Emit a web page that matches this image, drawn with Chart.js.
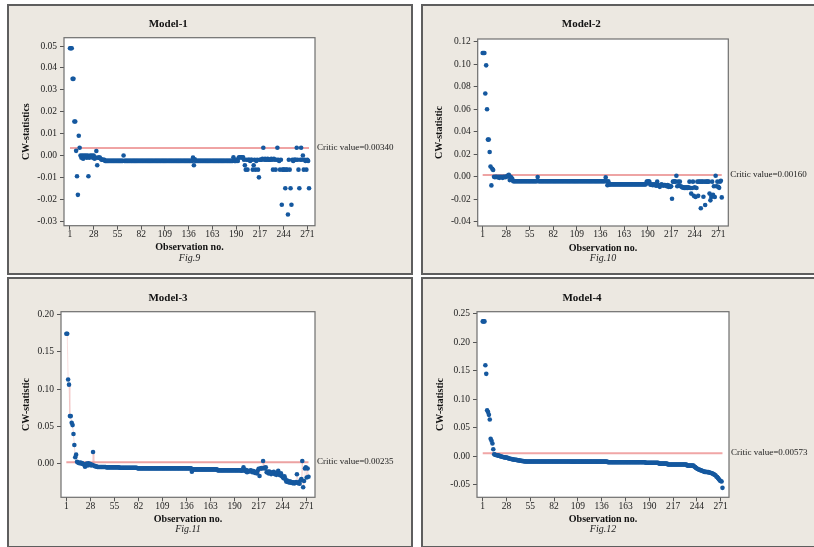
<!DOCTYPE html>
<html><head><meta charset="utf-8">
<script src="https://cdn.jsdelivr.net/npm/chart.js@4.4.1/dist/chart.umd.min.js"></script>
<style>
html,body{margin:0;padding:0;background:#fff;width:814px;height:547px;overflow:hidden;}
.panel{position:absolute;box-sizing:border-box;width:406px;height:271px;border:2px solid #5e5e5e;background:#ece8e1;}
.panel canvas{position:absolute;left:0;top:0;}
</style></head><body>
<div class="panel" style="left:7px;top:4px"><canvas id="c0" width="402" height="267"></canvas></div>
<div class="panel" style="left:421px;top:4px"><canvas id="c1" width="402" height="267"></canvas></div>
<div class="panel" style="left:7px;top:277px"><canvas id="c2" width="402" height="267"></canvas></div>
<div class="panel" style="left:421px;top:277px"><canvas id="c3" width="402" height="267"></canvas></div>
<script>
// ---------------- DATA ----------------
const TITLES = ["Model-1", "Model-2", "Model-3", "Model-4"];
const Y_TITLES = ["CW-statistics", "CW-statistic", "CW-statistic", "CW-statistic"];
const X_TITLE = "Observation no.";
const CAPTIONS = ["Fig.9", "Fig.10", "Fig.11", "Fig.12"];
const CRITIC = [0.0034, 0.0016, 0.00235, 0.00573];
const CRITIC_LABELS = ["Critic value=0.00340", "Critic value=0.00160", "Critic value=0.00235", "Critic value=0.00573"];
const X_TICKS = [1, 28, 55, 82, 109, 136, 163, 190, 217, 244, 271];
const Y_TICKS_1 = [-0.03, -0.02, -0.01, 0, 0.01, 0.02, 0.03, 0.04, 0.05];
const Y_LABELS_1 = ["-0.03", "-0.02", "-0.01", "0.00", "0.01", "0.02", "0.03", "0.04", "0.05"];
const Y_TICKS_2 = [-0.04, -0.02, 0, 0.02, 0.04, 0.06, 0.08, 0.10, 0.12];
const Y_LABELS_2 = ["-0.04", "-0.02", "0.00", "0.02", "0.04", "0.06", "0.08", "0.10", "0.12"];
const Y_TICKS_3 = [0, 0.05, 0.10, 0.15, 0.20];
const Y_LABELS_3 = ["0.00", "0.05", "0.10", "0.15", "0.20"];
const Y_TICKS_4 = [-0.05, 0, 0.05, 0.10, 0.15, 0.20, 0.25];
const Y_LABELS_4 = ["-0.05", "0.00", "0.05", "0.10", "0.15", "0.20", "0.25"];

// CW statistic per observation (obs 1..N)
const M1 = [
.049,.049,.049,.035,.035,.0155,.0155,.0021,-.0095,-.018,
.009,.0035,0,-.001,0,-.0015,0,-.0005,0,-.001,
0,-.0095,-.001,0,-.0005,0,-.001,0,-.0015,-.001,
.002,-.0045,-.001,-.001,-.001,-.0015,-.002,-.002,-.002,-.002,
-.0025,-.0025,-.0025,-.0025,-.0025,-.0025,-.0025,-.0025,-.0025,-.0025,
-.0025,-.0025,-.0025,-.0025,-.0025,-.0025,-.0025,-.0025,-.0025,-.0025,
-.0025,0,-.0025,-.0025,-.0025,-.0025,-.0025,-.0025,-.0025,-.0025,
-.0025,-.0025,-.0025,-.0025,-.0025,-.0025,-.0025,-.0025,-.0025,-.0025,
-.0025,-.0025,-.0025,-.0025,-.0025,-.0025,-.0025,-.0025,-.0025,-.0025,
-.0025,-.0025,-.0025,-.0025,-.0025,-.0025,-.0025,-.0025,-.0025,-.0025,
-.0025,-.0025,-.0025,-.0025,-.0025,-.0025,-.0025,-.0025,-.0025,-.0025,
-.0025,-.0025,-.0025,-.0025,-.0025,-.0025,-.0025,-.0025,-.0025,-.0025,
-.0025,-.0025,-.0025,-.0025,-.0025,-.0025,-.0025,-.0025,-.0025,-.0025,
-.0025,-.0025,-.0025,-.0025,-.0025,-.0025,-.0025,-.0025,-.0025,-.0025,
-.001,-.0045,-.0018,-.0025,-.0025,-.0025,-.0025,-.0025,-.0025,-.0025,
-.0025,-.0025,-.0025,-.0025,-.0025,-.0025,-.0025,-.0025,-.0025,-.0025,
-.0025,-.0025,-.0025,-.0025,-.0025,-.0025,-.0025,-.0025,-.0025,-.0025,
-.0025,-.0025,-.0025,-.0025,-.0025,-.0025,-.0025,-.0025,-.0025,-.0025,
-.0025,-.0025,-.0025,-.0025,-.0025,-.0025,-.0008,-.0025,-.0025,-.0025,
-.002,-.0025,-.001,-.0008,-.0008,-.0008,-.001,-.0008,-.002,-.0045,
-.0065,-.002,-.0065,-.002,-.002,-.0025,-.002,-.002,-.0065,-.0045,
-.002,-.0065,-.0025,-.002,-.0065,-.01,-.002,-.002,-.002,-.0015,
.0035,-.002,-.0015,-.002,-.002,-.0015,-.002,-.002,-.002,-.0015,
-.002,-.0065,-.0015,-.002,-.0065,-.002,.0035,-.002,-.0025,-.0065,
-.002,-.0225,-.0065,-.0065,-.0065,-.015,-.0065,-.0065,-.027,-.002,
-.0065,-.015,-.0225,-.002,-.0025,-.002,-.002,-.002,.0035,-.002,
-.0065,-.015,-.002,.0035,-.002,0,-.0065,-.002,-.0025,-.0065,
-.002,-.0025,-.015
];
const M2 = [
.11,.11,.11,.074,.099,.06,.033,.033,.022,.009,
-.0077,.007,.006,0,-.0005,0,0,-.0005,0,-.001,
0,-.0005,0,-.001,0,0,-.0005,0,.0005,.001,
.0018,-.003,0,-.001,-.002,-.004,-.004,-.004,-.004,-.004,
-.004,-.004,-.004,-.004,-.004,-.004,-.004,-.004,-.004,-.004,
-.004,-.004,-.004,-.004,-.004,-.004,-.004,-.004,-.004,-.004,
-.004,-.004,-.004,-.0003,-.004,-.004,-.004,-.004,-.004,-.004,
-.004,-.004,-.004,-.004,-.004,-.004,-.004,-.004,-.004,-.004,
-.004,-.004,-.004,-.004,-.004,-.004,-.004,-.004,-.004,-.004,
-.004,-.004,-.004,-.004,-.004,-.004,-.004,-.004,-.004,-.004,
-.004,-.004,-.004,-.004,-.004,-.004,-.004,-.004,-.004,-.004,
-.004,-.004,-.004,-.004,-.004,-.004,-.004,-.004,-.004,-.004,
-.004,-.004,-.004,-.004,-.004,-.004,-.004,-.004,-.004,-.004,
-.004,-.004,-.004,-.004,-.004,-.004,-.004,-.004,-.004,-.004,
-.004,-.0006,-.004,-.0075,-.004,-.007,-.0068,-.0068,-.0068,-.0068,
-.0068,-.0068,-.0068,-.0068,-.0068,-.0068,-.0068,-.0068,-.0068,-.0068,
-.0068,-.0068,-.0068,-.0068,-.0068,-.0068,-.0068,-.0068,-.0068,-.0068,
-.0068,-.0068,-.0068,-.0068,-.0068,-.0068,-.0068,-.0068,-.0068,-.0068,
-.0068,-.0068,-.0068,-.0068,-.0068,-.0068,-.0068,-.0068,-.0044,-.0044,
-.004,-.0044,-.007,-.007,-.0068,-.0075,-.007,-.0068,-.0075,-.008,
-.0044,-.0073,-.008,-.009,-.0073,-.0068,-.0073,-.008,-.0073,-.0073,
-.0078,-.0085,-.0073,-.009,-.008,-.009,-.0085,-.0196,-.0044,-.0044,
-.004,-.0044,.0009,-.0085,-.0044,-.0078,-.0044,-.0085,-.009,-.0095,
-.0095,-.01,-.0095,-.01,-.0095,-.01,-.0095,-.0044,-.01,-.015,
-.01,-.0044,-.017,-.0095,-.018,-.01,-.0044,-.017,-.0044,-.0044,
-.028,-.0044,-.0044,-.0178,-.0044,-.0252,-.0044,-.0044,-.0044,-.0044,
-.015,-.021,-.018,-.0044,-.016,-.0085,-.018,.0009,-.0085,-.0044,
-.009,-.0099,-.0044,-.0036,-.0184
];
const M3 = [
.174,.174,.113,.106,.064,.064,.055,.052,.04,.0254,
.009,.0125,.003,.002,.0015,.001,.002,.0005,.001,0,
-.001,-.0036,-.001,.0005,-.002,.001,-.001,0,-.002,-.001,
.016,-.002,-.003,-.003,-.0035,-.004,-.004,-.004,-.004,-.004,
-.004,-.004,-.004,-.004,-.004,-.0045,-.0045,-.0045,-.0045,-.0045,
-.0045,-.0045,-.0045,-.0045,-.0045,-.0045,-.0045,-.0045,-.0045,-.0045,
-.005,-.005,-.005,-.005,-.005,-.005,-.005,-.005,-.005,-.005,
-.005,-.005,-.005,-.005,-.005,-.005,-.005,-.005,-.005,-.005,
-.0058,-.0058,-.0058,-.0058,-.0058,-.0058,-.0058,-.0058,-.0058,-.0058,
-.0058,-.0058,-.0058,-.0058,-.0058,-.0058,-.0058,-.0058,-.0058,-.0058,
-.0058,-.0058,-.0058,-.0058,-.0058,-.0058,-.0058,-.0058,-.0058,-.0058,
-.0058,-.0058,-.0058,-.0058,-.0058,-.0058,-.0058,-.0058,-.0058,-.0058,
-.0058,-.0058,-.0058,-.0058,-.0058,-.0058,-.0058,-.0058,-.0058,-.0058,
-.0058,-.0058,-.0058,-.0058,-.0058,-.0058,-.0058,-.0058,-.0058,-.0058,
-.0058,-.0103,-.0072,-.0072,-.0072,-.0072,-.0072,-.0072,-.0072,-.0072,
-.0072,-.0072,-.0072,-.0072,-.0072,-.0072,-.0072,-.0072,-.0072,-.0072,
-.0072,-.0072,-.0072,-.0072,-.0072,-.0072,-.0072,-.0072,-.0072,-.0072,
-.0085,-.0085,-.0085,-.0085,-.0085,-.0085,-.0085,-.0085,-.0085,-.0085,
-.0085,-.0085,-.0085,-.0085,-.0085,-.0085,-.0085,-.0085,-.0085,-.0085,
-.0085,-.0085,-.0085,-.0085,-.0085,-.0085,-.0085,-.009,-.0085,-.0044,
-.0085,-.0095,-.008,-.011,-.009,-.0095,-.01,-.0085,-.009,-.011,
-.0095,-.01,-.012,-.011,-.0125,-.009,-.0065,-.016,-.006,-.0055,
-.006,.004,-.005,-.006,-.0045,-.011,-.01,-.0125,-.01,-.012,
-.0135,-.011,-.012,-.0105,-.0135,-.012,-.0145,-.0125,-.009,-.0135,
-.015,-.0125,-.016,-.0175,-.019,-.0165,-.02,-.0235,-.022,-.024,
-.0245,-.023,-.025,-.024,-.0255,-.0245,-.026,-.025,-.024,-.0138,
-.0255,-.0245,-.0263,-.022,-.02,.004,-.031,-.0227,-.006,-.0045,
-.018,-.006,-.017
];
const M4 = [
.237,.237,.237,.16,.145,.081,.078,.073,.065,.031,
.0275,.0228,.0128,.004,.003,.0025,.0022,.002,.0015,.001,
.0005,0,-.0005,-.001,-.0013,-.0016,-.0018,-.002,-.0025,-.003,
-.0035,-.004,-.0043,-.0046,-.005,-.0053,-.0056,-.0058,-.006,-.0063,
-.0066,-.0069,-.0072,-.0075,-.0077,-.008,-.0082,-.0084,-.0086,-.0087,
-.0088,-.0088,-.0088,-.0088,-.0088,-.0088,-.0088,-.0088,-.0088,-.0088,
-.0088,-.0088,-.0088,-.0088,-.0088,-.0088,-.0088,-.0088,-.0088,-.0088,
-.0088,-.0088,-.0088,-.0088,-.0088,-.0088,-.0088,-.0088,-.0088,-.0088,
-.0088,-.0088,-.0088,-.0088,-.0088,-.0088,-.0088,-.0088,-.0088,-.0088,
-.0088,-.0088,-.0088,-.0088,-.0088,-.0088,-.0088,-.0088,-.0088,-.0088,
-.009,-.009,-.009,-.009,-.009,-.009,-.009,-.009,-.009,-.009,
-.009,-.009,-.009,-.009,-.009,-.009,-.009,-.009,-.009,-.009,
-.009,-.009,-.009,-.009,-.009,-.009,-.009,-.009,-.009,-.009,
-.009,-.009,-.009,-.009,-.009,-.009,-.009,-.009,-.009,-.009,
-.009,-.009,-.01,-.01,-.01,-.01,-.01,-.01,-.01,-.01,
-.01,-.01,-.01,-.01,-.01,-.01,-.01,-.01,-.01,-.01,
-.01,-.01,-.01,-.01,-.01,-.01,-.01,-.01,-.01,-.01,
-.01,-.01,-.01,-.01,-.01,-.01,-.01,-.01,-.01,-.01,
-.01,-.01,-.01,-.01,-.01,-.011,-.011,-.011,-.011,-.011,
-.011,-.011,-.011,-.011,-.011,-.011,-.011,-.011,-.011,-.011,
-.0125,-.0125,-.0125,-.0125,-.0125,-.0125,-.0125,-.0125,-.0125,-.0125,
-.014,-.014,-.014,-.014,-.014,-.014,-.014,-.014,-.014,-.014,
-.014,-.014,-.014,-.014,-.014,-.014,-.014,-.014,-.014,-.014,
-.014,-.014,-.016,-.016,-.016,-.016,-.016,-.016,-.016,-.016,
-.0175,-.0187,-.02,-.021,-.022,-.0228,-.0234,-.024,-.0245,-.025,
-.026,-.0265,-.027,-.027,-.0272,-.0274,-.0275,-.028,-.0285,-.029,
-.0295,-.0304,-.031,-.032,-.033,-.035,-.036,-.038,-.04,-.042,
-.043,-.044,-.055
];

// ---------------- LAYOUT / STYLE ----------------
const SERIES = [M1, M2, M3, M4];
const YT = [Y_TICKS_1, Y_TICKS_2, Y_TICKS_3, Y_TICKS_4];
const YL = [Y_LABELS_1, Y_LABELS_2, Y_LABELS_3, Y_LABELS_4];
const GEOM = [
  {L:7,   T:4,   plot:[64,37.7,315,225.7],  titleY:24.3,  yTitleX:26.5,  x:[-5.8,279.8], y:[-0.0321,0.0538]},
  {L:421, T:4,   plot:[477.7,39,728.3,226], titleY:24.3,  yTitleX:439.3, x:[-4.7,282.5], y:[-0.0438,0.1224]},
  {L:7,   T:277, plot:[61,311.7,315,497.3], titleY:297.7, yTitleX:26,    x:[-5,280.3],   y:[-0.0445,0.2035]},
  {L:421, T:277, plot:[477,311.7,729,497.3],titleY:297.7, yTitleX:440,   x:[-5.5,280.4], y:[-0.0716,0.254]}
];
const LINE_STYLE = [
  {color:'#e04848', width:1},
  {color:'#eea4a4', width:2},
  {color:'#eca2a2', width:2},
  {color:'#f0a6a6', width:2}
];
const FAM = "'Liberation Serif','Times New Roman',serif";
const DOT = '#15589f';

function build(i){
  const g = GEOM[i];
  const ox = g.L + 2, oy = g.T + 2, W = 402, H = 267;
  const left = g.plot[0]-ox, top = g.plot[1]-oy, right = g.plot[2]-ox, bottom = g.plot[3]-oy;
  const titleCY = g.titleY - oy;
  const yTitleCX = g.yTitleX - ox;
  const xAxisH = 27, subLH = 10, subPadTop = 0.5, titleLH = 11, padTop = 4;
  const padLeft = yTitleCX - 5;
  const yAxisW = left - padLeft;
  const tPadTop = titleCY - padTop - titleLH/2;
  const tPadBottom = top - (titleCY + titleLH/2);
  const padBottom = H - bottom - xAxisH - (subLH + subPadTop);
  const padRight = W - right;
  const data = SERIES[i];
  const n = data.length;

  const plugin = {
    id:'frame'+i,
    beforeDraw(chart){
      const {ctx, chartArea:a} = chart;
      ctx.save(); ctx.fillStyle = '#fff';
      ctx.fillRect(a.left, a.top, a.right-a.left, a.bottom-a.top); ctx.restore();
    },
    afterDraw(chart){
      const {ctx, chartArea:a} = chart;
      ctx.save();
      ctx.strokeStyle = '#6e6e6e'; ctx.lineWidth = 1.2;
      ctx.strokeRect(a.left, a.top, a.right-a.left, a.bottom-a.top);
      const yp = chart.scales.y.getPixelForValue(CRITIC[i]) - 0.5;
      ctx.fillStyle = '#222'; ctx.font = "9px " + FAM;
      ctx.textAlign = 'left'; ctx.textBaseline = 'middle';
      ctx.fillText(CRITIC_LABELS[i], a.right + 2, yp);
      ctx.restore();
    }
  };

  const datasets = [
    {type:'scatter', data:data.map((v,k)=>({x:k+1, y:v})), backgroundColor:DOT,
     pointBackgroundColor:DOT, pointBorderWidth:0, pointBorderColor:DOT,
     pointRadius:2.3, pointHoverRadius:2.3, order:0,
     showLine: i===2, borderColor:'rgba(236,160,160,0.35)', borderWidth: i===2 ? 1 : 0, fill:false},
    {type:'line', data:[{x:1, y:CRITIC[i]}, {x:n, y:CRITIC[i]}], borderColor:LINE_STYLE[i].color,
     borderWidth:LINE_STYLE[i].width, pointRadius:0, fill:false, order:1}
  ];

  new Chart(document.getElementById('c'+i), {
    type:'scatter',
    data:{datasets},
    plugins:[plugin],
    options:{
      responsive:false, animation:false, devicePixelRatio:1,
      layout:{padding:{left:padLeft, right:padRight, top:padTop, bottom:padBottom}},
      plugins:{
        legend:{display:false}, tooltip:{enabled:false},
        title:{display:true, text:TITLES[i], color:'#111',
               font:{family:FAM, size:11, weight:'bold', lineHeight:1},
               padding:{top:tPadTop, bottom:tPadBottom}},
        subtitle:{display:true, text:CAPTIONS[i], position:'bottom', fullSize:false, color:'#222',
               font:{family:FAM, size:10, style:'italic', lineHeight:1},
               padding:{top:subPadTop, bottom:0}}
      },
      scales:{
        x:{type:'linear', position:'bottom', min:g.x[0], max:g.x[1],
           afterBuildTicks:s=>{ s.ticks = X_TICKS.map(v=>({value:v})); },
           afterFit:s=>{ s.height = xAxisH; },
           ticks:{autoSkip:false, maxRotation:0, padding:0, color:'#222',
                  font:{family:FAM, size:9.5, lineHeight:1},
                  callback:(v)=>String(v)},
           grid:{display:true, drawOnChartArea:false, drawTicks:true, tickLength:4, color:'#555'},
           border:{display:false},
           title:{display:true, text:X_TITLE, color:'#111', padding:{top:0,bottom:0},
                  font:{family:FAM, size:10, weight:'bold', lineHeight:1}}
        },
        y:{type:'linear', position:'left', min:g.y[0], max:g.y[1],
           afterBuildTicks:s=>{ s.ticks = YT[i].map(v=>({value:v})); },
           afterFit:s=>{ s.width = yAxisW; },
           ticks:{padding:3, color:'#222', font:{family:FAM, size:9.5, lineHeight:1},
                  callback:(v, idx)=>YL[i][idx]},
           grid:{display:true, drawOnChartArea:false, drawTicks:true, tickLength:4, color:'#555'},
           border:{display:false},
           title:{display:true, text:Y_TITLES[i], color:'#111', padding:{top:0,bottom:0},
                  font:{family:FAM, size:10, weight:'bold', lineHeight:1}}
        }
      }
    }
  });
}
for (let i=0;i<4;i++) build(i);
</script>
</body></html>
